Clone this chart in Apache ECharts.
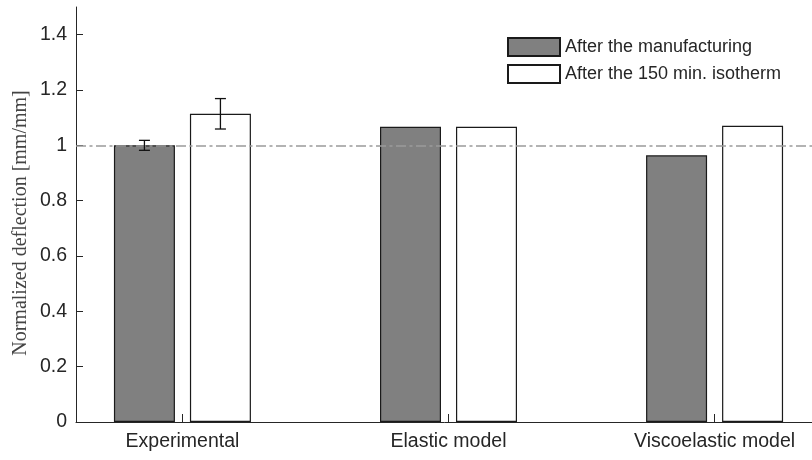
<!DOCTYPE html>
<html>
<head>
<meta charset="utf-8">
<script src="https://cdn.jsdelivr.net/npm/echarts@6/dist/echarts.min.js"></script>
<style>
  html, body { margin: 0; padding: 0; background: #fff; }
  #chart { width: 812px; height: 460px; }
</style>
</head>
<body>
<div id="chart"></div>
<script>
// Groups along the x axis and their positions on the value scale
const categories = ['Experimental', 'Elastic model', 'Viscoelastic model'];
const groupPos = [1, 2, 3];

// Normalized deflection [mm/mm]
const manufacturing = [1.0, 1.067, 0.964];
const isotherm = [1.114, 1.067, 1.071];

// Measured scatter (experimental group only)
const errManufacturing = [0.018, null, null];
const errIsotherm = [0.055, null, null];

// Reference level and y tick values
const referenceLevel = 1;
const yTicks = [0, 0.2, 0.4, 0.6, 0.8, 1, 1.2, 1.4];

const seriesNames = ['After the manufacturing', 'After the 150 min. isotherm'];

const BAR_W = 61;
const BAR_GAP = 15;
const INK = '#262626';
const FONT = "'Liberation Sans', Arial, sans-serif";

const chart = echarts.init(document.getElementById('chart'), null, { renderer: 'canvas' });

function errorData(errs, vals, side) {
  const out = [];
  errs.forEach((e, i) => {
    if (e != null) out.push([groupPos[i], vals[i], e, side]);
  });
  return out;
}

function renderError(params, api) {
  const x = api.value(0), m = api.value(1), e = api.value(2), side = api.value(3);
  const off = side * (BAR_W + BAR_GAP) / 2;
  const top = api.coord([x, m + e]);
  const bot = api.coord([x, m - e]);
  const cx = top[0] + off;
  const half = 5.5;
  const st = { stroke: '#111', lineWidth: 1.3, fill: null };
  return {
    type: 'group',
    children: [
      { type: 'line', shape: { x1: cx, y1: top[1], x2: cx, y2: bot[1] }, style: st },
      { type: 'line', shape: { x1: cx - half, y1: top[1], x2: cx + half, y2: top[1] }, style: st },
      { type: 'line', shape: { x1: cx - half, y1: bot[1], x2: cx + half, y2: bot[1] }, style: st }
    ]
  };
}

const option = {
  animation: false,
  backgroundColor: '#fff',
  // the plot box runs a little past the right edge of the canvas
  grid: { left: 76, width: 745, top: 7, bottom: 38, containLabel: false, outerBoundsMode: 'none' },
  legend: {
    orient: 'vertical',
    left: 507,
    top: 37,
    padding: 0,
    itemWidth: 52,
    itemHeight: 18,
    itemGap: 7,
    icon: 'rect',
    data: seriesNames,
    textStyle: { fontFamily: FONT, fontSize: 18, color: INK },
    selectedMode: false
  },
  xAxis: {
    type: 'value',
    min: 0.6,
    max: 3.4,
    axisLine: { show: true, onZero: false, lineStyle: { color: INK, width: 1 } },
    axisTick: { show: true, inside: true, length: 8, customValues: groupPos, lineStyle: { color: INK } },
    axisLabel: {
      show: true,
      customValues: groupPos,
      margin: 10,
      fontFamily: FONT,
      fontSize: 19.5,
      color: INK,
      formatter: v => categories[Math.round(v) - 1]
    },
    splitLine: { show: false }
  },
  yAxis: {
    type: 'value',
    min: 0,
    max: 1.5,
    axisLine: { show: true, onZero: false, lineStyle: { color: INK, width: 1 } },
    axisTick: { show: true, inside: true, length: 7, customValues: yTicks, lineStyle: { color: INK } },
    axisLabel: {
      show: true,
      customValues: yTicks,
      margin: 9,
      fontFamily: FONT,
      fontSize: 19.5,
      color: INK
    },
    splitLine: { show: false }
  },
  graphic: [{
    type: 'text',
    x: 21,
    y: 223,
    rotation: Math.PI / 2,
    style: {
      text: 'Normalized deflection [mm/mm]',
      font: "20px 'Liberation Serif', 'Times New Roman', serif",
      fill: '#444',
      align: 'center',
      verticalAlign: 'middle'
    }
  }],
  series: [
    {
      name: seriesNames[0],
      type: 'bar',
      barWidth: BAR_W,
      barGap: (BAR_GAP / BAR_W * 100).toFixed(2) + '%',
      data: groupPos.map((x, i) => [x, manufacturing[i]]),
      itemStyle: { color: '#808080', borderColor: '#1a1a1a', borderWidth: 1.2 },
      z: 2
    },
    {
      name: seriesNames[1],
      type: 'bar',
      barWidth: BAR_W,
      barGap: (BAR_GAP / BAR_W * 100).toFixed(2) + '%',
      data: groupPos.map((x, i) => [x, isotherm[i]]),
      itemStyle: { color: '#ffffff', borderColor: '#1a1a1a', borderWidth: 1.2 },
      z: 2,
      markLine: {
        silent: true,
        symbol: 'none',
        label: { show: false },
        lineStyle: { color: '#9a9a9a', width: 1.6, type: [10, 3.5, 3, 3.5] },
        data: [{ yAxis: referenceLevel }],
        z: 4
      }
    },
    {
      type: 'custom',
      name: 'err-manufacturing',
      renderItem: renderError,
      data: errorData(errManufacturing, manufacturing, -1),
      z: 6,
      silent: true
    },
    {
      type: 'custom',
      name: 'err-isotherm',
      renderItem: renderError,
      data: errorData(errIsotherm, isotherm, 1),
      z: 6,
      silent: true
    }
  ]
};

chart.setOption(option);
</script>
</body>
</html>
